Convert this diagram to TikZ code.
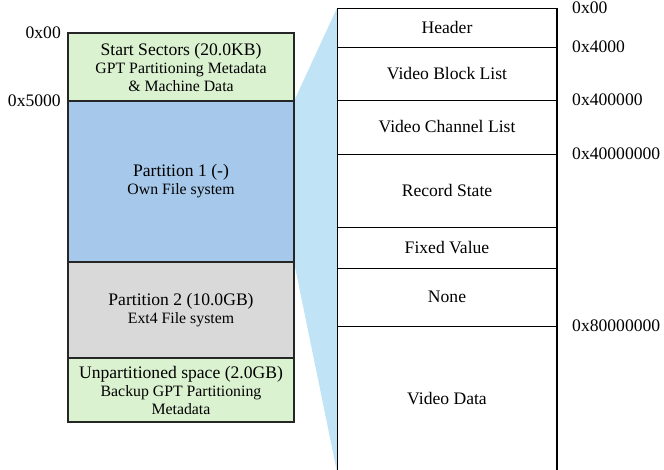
\documentclass[tikz,border=0pt]{standalone}
\usepackage{fontspec}
\setmainfont{Liberation Serif}
\usetikzlibrary{positioning,backgrounds}
\definecolor{sectgreen}{HTML}{DAF2D0}
\definecolor{partblue}{HTML}{A6C8EA}
\definecolor{partgray}{HTML}{D9D9D9}
\definecolor{zoomblue}{HTML}{C0E4F5}
\newcommand{\bigtxt}{\fontsize{17.6}{19}\selectfont}
\newcommand{\smalltxt}{\fontsize{15.8}{18}\selectfont}

\begin{document}
\begin{tikzpicture}[x=1pt,y=-1pt,
    part/.style={draw=black!85,line width=1.4pt,outer sep=0pt,inner sep=0pt,
        minimum width=226pt,align=center,font=\smalltxt},
    field/.style={draw=black,line width=0.9pt,outer sep=0pt,inner sep=0pt,
        minimum width=220pt,font=\bigtxt},
    addr/.style={inner sep=0pt,font=\bigtxt}]
            \useasboundingbox (0,0) rectangle (664,469);
            \node[part,fill=sectgreen,minimum height=68pt,anchor=north west] (start) at (68,33)
                {{\bigtxt Start Sectors (20.0KB)}\\GPT Partitioning Metadata\\\& Machine Data};
            \node[part,fill=partblue,minimum height=161pt,below=0pt of start] (p1)
                {{\bigtxt Partition 1 (-)}\\Own File system};
            \node[part,fill=partgray,minimum height=96pt,below=0pt of p1] (p2)
                {{\bigtxt Partition 2 (10.0GB)}\\Ext4 File system};
            \node[part,fill=sectgreen,minimum height=64pt,below=0pt of p2] (unpart)
                {{\bigtxt Unpartitioned space (2.0GB)}\\Backup GPT Partitioning\\Metadata};
            \node[addr,left=7pt of start.north west] {0x00};
            \node[addr,left=7pt of start.south west] {0x5000};

            \node[field,minimum height=39pt,anchor=north west] (hdr) at (337,8) {Header};
            \node[field,minimum height=53pt,below=0pt of hdr] (vbl) {Video Block List};
            \node[field,minimum height=54pt,below=0pt of vbl] (vcl) {Video Channel List};
            \node[field,minimum height=73pt,below=0pt of vcl] (rs) {Record State};
            \node[field,minimum height=41pt,below=0pt of rs] (fv) {Fixed Value};
            \node[field,minimum height=58pt,below=0pt of fv] (none) {None};
            \node[field,draw=none,minimum height=146pt,below=0pt of none] (vd) {Video Data};
            \draw[line width=0.9pt] (vd.north west)--(vd.south west);
            \draw[line width=2pt] (hdr.north east)--(vd.south east);
            \node[addr,right=15pt of hdr.north east] {0x00};
            \node[addr,right=15pt of hdr.south east] {0x4000};
            \node[addr,right=15pt of vbl.south east] {0x400000};
            \node[addr,right=15pt of vcl.south east] {0x40000000};
            \node[addr,right=15pt of none.south east] {0x80000000};

            \begin{scope}[on background layer]
                \fill[zoomblue] (start.south east)--(hdr.north west)--(vd.south west)--(p1.south east)--cycle;
            \end{scope}
        \end{tikzpicture}
\end{document}
